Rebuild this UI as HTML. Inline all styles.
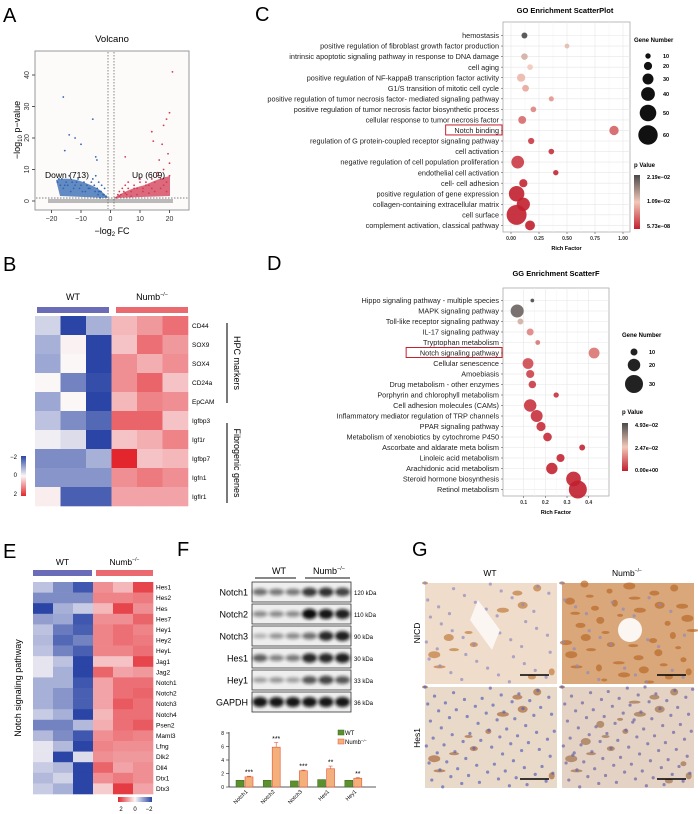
<!DOCTYPE html>
<html><head><meta charset="utf-8">
<style>
html,body{margin:0;padding:0;background:#fff;}
svg{display:block;font-family:"Liberation Sans",Arial,sans-serif;}
</style></head>
<body>
<svg id="fig" width="698" height="814" viewBox="0 0 698 814" xmlns="http://www.w3.org/2000/svg">
<defs>
<filter id="blur1" x="-30%" y="-60%" width="160%" height="220%"><feGaussianBlur stdDeviation="1.6"/></filter>
<linearGradient id="goGrad" x1="0" y1="0" x2="0" y2="1"><stop offset="0" stop-color="#4a4a4a"/><stop offset="0.5" stop-color="#f2c8b8"/><stop offset="1" stop-color="#c21f2e"/></linearGradient>
<linearGradient id="bGrad" x1="0" y1="0" x2="0" y2="1"><stop offset="0" stop-color="#2a45a6"/><stop offset="0.5" stop-color="#fbf7f7"/><stop offset="1" stop-color="#e3262e"/></linearGradient>
<linearGradient id="eGrad" x1="0" y1="0" x2="1" y2="0"><stop offset="0" stop-color="#e3262e"/><stop offset="0.5" stop-color="#fbf7f7"/><stop offset="1" stop-color="#2a45a6"/></linearGradient>
</defs>
<g id="gA"></g>
<g id="gB"></g>
<g id="gC"></g>
<g id="gD"></g>
<g id="gE"></g>
<g id="gF"></g>
<g id="gG"></g>
</svg>
<script>
// ---------- DATA ----------
const volcDownFC=[-18,-17,-16.5,-16,-15,-14.5,-14,-13,-12.5,-12,-11,-10.5,-10,-9,-8.5,-8,-7,-6.5,-6,-5.5,-5,-4.5,-4,-3.5,-3,-2.5,-2,-1.5,-17.5,-15.5,-13.5,-11.5,-9.5,-7.5,-5.2,-4.2,-3.2,-2.2,-16,-14,-12,-6,-5,-4.6,-15.5,-10,-4,-3.5];
const volcDownP=[6,5,7,4,6,5,8,6,4,5,7,4,5,6,3,5,4,6,7,5,8,4,6,3,5,2,4,1.5,7,5,3,6,3,4,3,2,3,2,33,21,20,26,14,13,16,18,3,1];
const volcUpFC=[2,2.5,3,3.5,4,4.5,5,5.5,6,7,8,9,10,11,12,13,14,15,16,17,18,19,20,3,5,7,9,11,13,15,17,19,6,8,10,12,14,16,18,20,21,20,19,18,19.5,14,14.5,17.5,16.5,5];
const volcUpP=[1,2,3,2,4,3,5,2,4,3,5,4,6,4,6,5,7,6,8,7,5,6,8,1.5,2.5,1.5,2,3,2.5,3,4,3,6,4,7,5,4,9,10,12,41,28,26,24,15,22,19,18,13,14];

const bGenes=["CD44","SOX9","SOX4","CD24a","EpCAM","Igfbp3","Igf1r","Igfbp7","Igfn1","Igflr1"];
const bVals=[[-0.4,-2,-0.8,0.6,0.9,1.3],[-0.8,0.05,-2,0.5,1.3,0.9],[-0.9,0,-2,1,0.7,1],[0,-1.3,-1.9,1,1.4,0.5],[-0.9,0,-2,0.6,1.1,1],[-0.6,-1.2,-1.6,1.4,1.4,0.5],[-0.1,-0.3,-2,0.5,0.7,1.1],[-1.2,-1.2,-0.8,2,0.5,0.6],[-1.1,-1.1,-1.1,1,1.2,1],[0.1,-1.7,-1.7,0.8,0.8,0.8]];

const eGenes=["Hes1","Hes2","Hes","Hes7","Hey1","Hey2","HeyL","Jag1","Jag2","Notch1","Notch2","Notch3","Notch4","Psen2","Maml3","Lfng","Dlk2","Dll4","Dtx1","Dtx3"];
const eVals=[[-0.6,-1.2,-1.8,1,0.6,1.7],[-1.2,-1.2,-1.2,1.1,1.1,1.2],[-2,-0.8,-0.5,0.6,1.7,1.0],[-1,-0.9,-1.8,1,1,1.4],[-0.6,-1.4,-1.7,1.1,1.3,1.1],[-0.7,-1.6,-1.3,1.1,1.3,1.2],[-0.6,-1.3,-1.7,1.1,1.1,1.3],[-0.2,-0.6,-2,0.5,0.5,1.7],[-0.2,-0.8,-2,1.4,0.8,0.9],[-0.8,-0.8,-1.8,0.8,1.3,1.3],[-0.8,-1.1,-1.7,0.8,1.3,1.4],[-0.8,-1.1,-1.7,0.8,1.5,1.3],[-0.5,-0.8,-2,0.6,1.3,1.3],[-1.3,-1.3,-0.7,0.7,1.3,1.5],[-0.7,-1.2,-1.8,1,1.2,1.1],[-0.2,-0.7,-2,1.1,1.0,1.0],[-0.2,-2,-0.3,1.0,0.9,0.9],[-0.5,-0.7,-2,1.4,0.8,1.0],[-0.7,-0.4,-2,1,1.2,1],[-0.5,-0.8,-2,0.4,1.8,0.8]];

const goTerms=["hemostasis","positive regulation of fibroblast growth factor production","intrinsic apoptotic signaling pathway in response to DNA damage","cell aging","positive regulation of NF-kappaB transcription factor activity","G1/S transition of mitotic cell cycle","positive regulation of tumor necrosis factor- mediated signaling pathway","positive regulation of tumor necrosis factor biosynthetic process","cellular response to tumor necrosis factor","Notch binding","regulation of G protein-coupled receptor signaling pathway","cell activation","negative regulation of cell population proliferation","endothelial cell activation","cell- cell adhesion","positive regulation of gene expression","collagen-containing extracellular matrix","cell surface","complement activation, classical pathway"];
const goRich=[0.12,0.5,0.12,0.17,0.09,0.13,0.36,0.2,0.1,0.92,0.18,0.36,0.06,0.4,0.11,0.05,0.11,0.05,0.17];
const goCount=[12,8,14,11,20,15,9,11,19,24,13,11,36,10,20,46,38,62,26];
const goP=[1,0.55,0.6,0.5,0.45,0.4,0.35,0.3,0.22,0.2,0.08,0.05,0.08,0.02,0.02,0,0,0,0];
const goTicks=[0,0.25,0.5,0.75,1];
const goTickLabels=["0.00","0.25","0.50","0.75","1.00"];

const kTerms=["Hippo signaling pathway - multiple species","MAPK signaling pathway","Toll-like receptor signaling pathway","IL-17 signaling pathway","Tryptophan metabolism","Notch signaling pathway","Cellular senescence","Amoebiasis","Drug metabolism - other enzymes","Porphyrin and chlorophyll metabolism","Cell adhesion molecules (CAMs)","Inflammatory mediator regulation of TRP channels","PPAR signaling pathway","Metabolism of xenobiotics by cytochrome P450","Ascorbate and aldarate meta bolism","Linoleic acid metabolism","Arachidonic acid metabolism","Steroid hormone biosynthesis","Retinol metabolism"];
const kRich=[0.14,0.07,0.085,0.13,0.165,0.425,0.12,0.13,0.14,0.25,0.13,0.16,0.18,0.21,0.37,0.27,0.23,0.33,0.35];
const kCount=[4,21,8,10,6,17,17,12,11,7,20,19,14,13,8,12,18,24,30];
const kP=[1,0.9,0.6,0.3,0.25,0.25,0.12,0.1,0.08,0.06,0.06,0.05,0.04,0.03,0.02,0.02,0.01,0.01,0];
const kTicks=[0.1,0.2,0.3,0.4];

const fCats=["Notch1","Notch2","Notch3","Hes1","Hey1"];
const fWT=[1.0,1.0,0.9,1.1,1.0];
const fKO=[1.5,5.9,2.4,2.7,1.3];
const fKOerr=[0.1,0.7,0.1,0.4,0.1];
const fSig=["***","***","***","**","**"];
const fYTicks=[0,2,4,6,8];
const blotNames=["Notch1","Notch2","Notch3","Hes1","Hey1","GAPDH"];
const blotKDa=["120 kDa","110 kDa","90 kDa","30 kDa","33 kDa","36 kDa"];
const blotInt=[[0.45,0.4,0.4,0.75,0.8,0.7],[0.3,0.3,0.3,1,0.95,0.9],[0.1,0.25,0.3,0.45,0.85,0.9],[0.55,0.35,0.4,0.85,0.85,0.9],[0.2,0.25,0.2,0.6,0.7,0.6],[0.95,0.95,0.95,0.95,0.95,0.95]];

// ---------- HELPERS ----------
const NS="http://www.w3.org/2000/svg";
function mk(parent,tag,attrs,text){const e=document.createElementNS(NS,tag);for(const k in attrs)e.setAttribute(k,attrs[k]);if(text!==undefined)e.textContent=text;parent.appendChild(e);return e;}
function lerp(a,b,t){return a+(b-a)*t;}
function mixHex(c1,c2,t){const p=h=>[parseInt(h.substr(1,2),16),parseInt(h.substr(3,2),16),parseInt(h.substr(5,2),16)];const a=p(c1),b=p(c2);return "rgb("+a.map((v,i)=>Math.round(lerp(v,b[i],t))).join(",")+")";}
function heatColor(v){const t=Math.min(1,Math.abs(v)/2);return v<0?mixHex("#fbf7f7","#2a45a6",t):mixHex("#fbf7f7","#e3262e",t);}
function pColor(p){return p>0.5?mixHex("#f2c8b8","#4a4a4a",(p-0.5)*2):mixHex("#c21f2e","#f2c8b8",p*2);}
function label(g,x,y,t){const e=mk(g,"text",{x:x,y:y,"font-size":20,fill:"#000"},t);}

// ---------- A: volcano ----------
(function(){
const g=document.getElementById("gA");
label(g,3,22,"A");
const xs=v=>110.5+v*2.95, ys=v=>201-v*3.15;
const t=mk(g,"text",{x:112,y:42,"font-size":9.5,"text-anchor":"middle"},"Volcano");

const bx=mk(g,"rect",{x:35,y:51,width:154,height:159,fill:"#fdfafa",stroke:"#999","stroke-width":1});

// gray non-significant band
const gb=mk(g,"rect",{x:48,y:199,width:125,height:4,fill:"#aaa",opacity:0.8});

mk(g,"line",{x1:36,x2:188,y1:198,y2:198,stroke:"#555","stroke-dasharray":"1.5,1.5","stroke-width":0.7});
mk(g,"line",{x1:108,x2:108,y1:52,y2:209,stroke:"#555","stroke-dasharray":"1.5,1.5","stroke-width":0.7});
mk(g,"line",{x1:114,x2:114,y1:52,y2:209,stroke:"#555","stroke-dasharray":"1.5,1.5","stroke-width":0.7});
// dense clouds
const cd=mk(g,"path",{d:"M56,180 Q70,176 88,184 Q100,188 108,198 L60,196 Z",fill:"#2f66b0",opacity:0.75});

const cu=mk(g,"path",{d:"M114,198 Q125,190 145,185 Q160,178 170,176 L170,196 Z",fill:"#d23a52",opacity:0.75});

volcDownFC.forEach((v,i)=>{const c=mk(g,"circle",{cx:xs(v),cy:ys(volcDownP[i]),r:0.9,fill:"#2f66b0"});});
volcUpFC.forEach((v,i)=>{const c=mk(g,"circle",{cx:xs(v),cy:ys(volcUpP[i]),r:0.9,fill:"#d23a52"});});
const d=mk(g,"text",{x:45,y:178,"font-size":8.5},"Down (713)");
const u=mk(g,"text",{x:132,y:178,"font-size":8.5},"Up (609)");
[-20,-10,0,10,20].forEach(v=>{mk(g,"line",{x1:xs(v),x2:xs(v),y1:210,y2:213,stroke:"#555"});const tt=mk(g,"text",{x:xs(v),y:221,"font-size":7,"text-anchor":"middle",fill:"#333"},v===0?"0":(v<0?"−"+(-v):v));});
[0,10,20,30,40].forEach(v=>{mk(g,"line",{x1:32,x2:35,y1:ys(v),y2:ys(v),stroke:"#555"});const tt=mk(g,"text",{x:0,y:0,"font-size":7,"text-anchor":"middle",fill:"#333",transform:`translate(29,${ys(v)}) rotate(-90)`},v);});
const xt=mk(g,"text",{x:112,y:234,"font-size":9,"text-anchor":"middle"});xt.innerHTML='−log<tspan font-size="6" dy="2">2</tspan><tspan dy="-2"> FC</tspan>';

const yt=mk(g,"text",{"font-size":9,"text-anchor":"middle",transform:"translate(20,130) rotate(-90)"});yt.innerHTML='−log<tspan font-size="6" dy="2">10</tspan><tspan dy="-2"> p−value</tspan>';

})();

// ---------- heatmap helper ----------
function heatmap(g,genes,vals,x0,y0,cw,rh,fs,lx){
 genes.forEach((gn,r)=>{vals[r].forEach((v,c)=>{const e=mk(g,"rect",{x:x0+c*cw,y:y0+r*rh,width:cw+0.3,height:rh+0.3,fill:heatColor(v)});});
 const t=mk(g,"text",{x:lx,y:y0+r*rh+rh/2+fs*0.35,"font-size":fs},gn);});
}
function groupBars(g,x0,x1,x2,x3,yb,yt,fs){
 const a=mk(g,"rect",{x:x0,y:yb,width:x1-x0,height:6,fill:"#6a6cb8"});
 const b=mk(g,"rect",{x:x2,y:yb,width:x3-x2,height:6,fill:"#ea6a70"});
 const t1=mk(g,"text",{x:(x0+x1)/2,y:yt,"font-size":fs,"text-anchor":"middle"},"WT");
 const t2=mk(g,"text",{x:(x2+x3)/2,y:yt,"font-size":fs,"text-anchor":"middle"});t2.innerHTML='Numb<tspan font-size="'+(fs*0.6)+'" dy="-4">−/−</tspan>';
}

// ---------- B ----------
(function(){
const g=document.getElementById("gB");
label(g,3,271,"B");
groupBars(g,37,109,116,188,307,300,9);
heatmap(g,bGenes,bVals,35,316,25.5,19,6.5,192);
mk(g,"line",{x1:227,x2:227,y1:323,y2:403,stroke:"#222","stroke-width":1.2});
mk(g,"line",{x1:227,x2:227,y1:423,y2:503,stroke:"#222","stroke-width":1.2});
const h=mk(g,"text",{"font-size":9,"text-anchor":"middle",transform:"translate(234,363) rotate(90)"},"HPC markers");
const f=mk(g,"text",{"font-size":9,"text-anchor":"middle",transform:"translate(234,463) rotate(90)"},"Fibrogenic genes");
const cb=mk(g,"rect",{x:21,y:456,width:5,height:40,fill:"url(#bGrad)"});
[["−2",459],["0",477],["2",496]].forEach(a=>{const t=mk(g,"text",{x:17,y:a[1],"font-size":6,"text-anchor":"end"},a[0]);});
})();

// ---------- scatter helper ----------
function scatter(g,cfg){
 const {terms,rich,count,p,x0,x1,y0,y1,row0,dy,xs,rf,ticks,tickLabels,boxLabel}=cfg;
 const pa=mk(g,"rect",{x:x0,y:y0,width:x1-x0,height:y1-y0,fill:"#fff",stroke:"#aaa","stroke-width":0.8});
 ticks.forEach(v=>{mk(g,"line",{x1:xs(v),x2:xs(v),y1:y0,y2:y1,stroke:"#e6e6e6","stroke-width":0.6});});
 ticks.forEach((v,i)=>{if(i<ticks.length-1)mk(g,"line",{x1:(xs(v)+xs(ticks[i+1]))/2,x2:(xs(v)+xs(ticks[i+1]))/2,y1:y0,y2:y1,stroke:"#f2f2f2","stroke-width":0.5});});
 terms.forEach((t,i)=>{const y=row0+i*dy;mk(g,"line",{x1:x0,x2:x1,y1:y,y2:y,stroke:"#e6e6e6","stroke-width":0.6});
  const tx=mk(g,"text",{x:x0-4,y:y+2.6,"font-size":7.3,"text-anchor":"end",fill:"#222"},t);
  if(t===boxLabel){const w=t.length*3.95+4;const bb=mk(g,"rect",{x:x0-w-2,y:y-5.5,width:w+1,height:10,fill:"none",stroke:"#c8202a","stroke-width":1});}
  mk(g,"line",{x1:x0-2,x2:x0,y1:y,y2:y,stroke:"#555","stroke-width":0.6});
 });
 terms.forEach((t,i)=>{const c=mk(g,"circle",{cx:xs(rich[i]),cy:row0+i*dy,r:rf(count[i]),fill:pColor(p[i]),opacity:0.9});});
 ticks.forEach((v,i)=>{mk(g,"line",{x1:xs(v),x2:xs(v),y1:y1,y2:y1+2,stroke:"#555","stroke-width":0.6});const tt=mk(g,"text",{x:xs(v),y:y1+8,"font-size":5,"text-anchor":"middle","font-weight":"bold",fill:"#333"},tickLabels[i]);});
 const xt=mk(g,"text",{x:(x0+x1)/2,y:y1+18,"font-size":5.5,"text-anchor":"middle","font-weight":"bold"},"Rich Factor");
}

// ---------- C ----------
(function(){
const g=document.getElementById("gC");
label(g,255,21,"C");
const t=mk(g,"text",{x:565,y:13,"font-size":7.5,"text-anchor":"middle","font-weight":"bold"},"GO Enrichment ScatterPlot");
const xs=v=>511+v*112; const rf=n=>1.3+0.14*n;
scatter(g,{terms:goTerms,rich:goRich,count:goCount,p:goP,x0:503,x1:630,y0:22,y1:232,row0:35.5,dy:10.55,xs:xs,rf:rf,ticks:goTicks,tickLabels:goTickLabels,boxLabel:"Notch binding"});
const gl=mk(g,"text",{x:634,y:42,"font-size":6,"font-weight":"bold"},"Gene Number");
[[10,56],[20,66],[30,79],[40,94],[50,113],[60,135]].forEach(a=>{const c=mk(g,"circle",{cx:648,cy:a[1],r:rf(a[0]),fill:"#111"});const tt=mk(g,"text",{x:663,y:a[1]+2,"font-size":5.5,"font-weight":"bold"},a[0]);});
const pl=mk(g,"text",{x:634,y:167,"font-size":6,"font-weight":"bold"},"p Value");
const cb=mk(g,"rect",{x:634,y:175,width:6,height:54,fill:"url(#goGrad)"});
[["2.19e−02",179],["1.09e−02",203],["5.73e−08",228]].forEach(a=>{const tt=mk(g,"text",{x:647,y:a[1],"font-size":5.5,"font-weight":"bold"},a[0]);});
})();

// ---------- D ----------
(function(){
const g=document.getElementById("gD");
label(g,267,270,"D");
const t=mk(g,"text",{x:556,y:276,"font-size":7.5,"text-anchor":"middle","font-weight":"bold"},"GG Enrichment ScatterF");
const xs=v=>502+v*216.7; const rf=n=>0.75+0.275*n;
scatter(g,{terms:kTerms,rich:kRich,count:kCount,p:kP,x0:503,x1:609,y0:288,y1:496,row0:300.5,dy:10.5,xs:xs,rf:rf,ticks:kTicks,tickLabels:kTicks.map(String),boxLabel:"Notch signaling pathway"});
const gl=mk(g,"text",{x:622,y:337,"font-size":6,"font-weight":"bold"},"Gene Number");
[[10,352],[20,365],[30,384]].forEach(a=>{const c=mk(g,"circle",{cx:634,cy:a[1],r:rf(a[0]),fill:"#222"});const tt=mk(g,"text",{x:649,y:a[1]+2,"font-size":5.5,"font-weight":"bold"},a[0]);});
const pl=mk(g,"text",{x:622,y:414,"font-size":6,"font-weight":"bold"},"p Value");
const cb=mk(g,"rect",{x:622,y:423,width:6,height:48,fill:"url(#goGrad)"});
[["4.93e−02",427],["2.47e−02",450],["0.00e+00",472]].forEach(a=>{const tt=mk(g,"text",{x:635,y:a[1],"font-size":5.5,"font-weight":"bold"},a[0]);});
})();

// ---------- E ----------
(function(){
const g=document.getElementById("gE");
label(g,3,558,"E");
groupBars(g,33,92,96,153,570,565,8.5);
heatmap(g,eGenes,eVals,33,582,20,10.6,6.5,156);
const st=mk(g,"text",{"font-size":9,"text-anchor":"middle",transform:"translate(21,688) rotate(-90)"},"Notch signaling pathway");
const cb=mk(g,"rect",{x:118,y:797,width:34,height:5,fill:"url(#eGrad)"});
[["2",121],["0",135],["−2",149]].forEach(a=>{const t=mk(g,"text",{x:a[1],y:811,"font-size":6,"text-anchor":"middle"},a[0]);});
})();

// ---------- F ----------
(function(){
const g=document.getElementById("gF");
label(g,177,556,"F");
const t1=mk(g,"text",{x:279,y:574,"font-size":9,"text-anchor":"middle"},"WT");
const t2=mk(g,"text",{x:329,y:574,"font-size":9,"text-anchor":"middle"});t2.innerHTML='Numb<tspan font-size="5.5" dy="-4">−/−</tspan>';
mk(g,"line",{x1:255,x2:296,y1:578,y2:578,stroke:"#111","stroke-width":1});
mk(g,"line",{x1:305,x2:350,y1:578,y2:578,stroke:"#111","stroke-width":1});
blotNames.forEach((nm,r)=>{const y=582+r*22;
 const bx=mk(g,"rect",{x:252,y:y,width:99,height:20,fill:"#eeeeee",stroke:"#333","stroke-width":0.8});
 blotInt[r].forEach((v,c)=>{const b=mk(g,"ellipse",{cx:260+c*16.5,cy:y+10,rx:7.5,ry:2+v*3.2,fill:"#111",opacity:0.2+0.8*v,filter:"url(#blur1)"});});
 const l=mk(g,"text",{x:248,y:y+13.5,"font-size":9,"text-anchor":"end"},nm);
 const k=mk(g,"text",{x:354,y:y+13,"font-size":6},blotKDa[r]);
});
// bar chart
const ys=v=>787-v*6.75, cx=i=>244+i*27.2;
mk(g,"line",{x1:229,x2:229,y1:732,y2:787,stroke:"#222","stroke-width":0.8});
mk(g,"line",{x1:229,x2:376,y1:787,y2:787,stroke:"#222","stroke-width":0.8});
fYTicks.forEach(v=>{mk(g,"line",{x1:226,x2:229,y1:ys(v),y2:ys(v),stroke:"#222","stroke-width":0.6});const t=mk(g,"text",{x:224,y:ys(v)+2,"font-size":5,"text-anchor":"end"},v);});
fCats.forEach((c,i)=>{
 const w=mk(g,"rect",{x:cx(i)-8,y:ys(fWT[i]),width:8,height:787-ys(fWT[i]),fill:"#5c8f2e",stroke:"#3d6a1b","stroke-width":0.5});
 const k=mk(g,"rect",{x:cx(i)+1,y:ys(fKO[i]),width:8,height:787-ys(fKO[i]),fill:"#f3b07a",stroke:"#e0563a","stroke-width":0.6});
 mk(g,"line",{x1:cx(i)+5,x2:cx(i)+5,y1:ys(fKO[i]),y2:ys(fKO[i]+fKOerr[i]),stroke:"#e0563a","stroke-width":0.6});
 mk(g,"line",{x1:cx(i)+3,x2:cx(i)+7,y1:ys(fKO[i]+fKOerr[i]),y2:ys(fKO[i]+fKOerr[i]),stroke:"#e0563a","stroke-width":0.6});
 const s=mk(g,"text",{x:cx(i)+5,y:ys(fKO[i]+fKOerr[i])-1.5,"font-size":7,"text-anchor":"middle"},fSig[i]);
 const l=mk(g,"text",{"font-size":5.5,"text-anchor":"end",transform:`translate(${cx(i)+4},792) rotate(-45)`},c);
});
const lw=mk(g,"rect",{x:338,y:730,width:6,height:5,fill:"#5c8f2e",stroke:"#3d6a1b","stroke-width":0.5});
const lwt=mk(g,"text",{x:345,y:735,"font-size":6},"WT");
const lk=mk(g,"rect",{x:338,y:739,width:6,height:5,fill:"#f3b07a",stroke:"#e0563a","stroke-width":0.5});
const lkt=mk(g,"text",{x:345,y:744,"font-size":6});lkt.innerHTML='Numb<tspan font-size="4" dy="-2">−/−</tspan>';
})();

// ---------- G ----------
(function(){
const g=document.getElementById("gG");
label(g,412,556,"G");
const t1=mk(g,"text",{x:490,y:576,"font-size":8.5,"text-anchor":"middle"},"WT");
const t2=mk(g,"text",{x:627,y:576,"font-size":8.5,"text-anchor":"middle"});t2.innerHTML='Numb<tspan font-size="5" dy="-4">−/−</tspan>';
const r1=mk(g,"text",{"font-size":8.5,"text-anchor":"middle",transform:"translate(420,633) rotate(-90)"},"NICD");
const r2=mk(g,"text",{"font-size":8.5,"text-anchor":"middle",transform:"translate(420,738) rotate(-90)"},"Hes1");
const panels=[[425,583,"#efdccb","#c27a3c",0.25,"#8f8ac0",0.5,"ihc-wt-nicd"],[562,583,"#d9a779","#b8692a",0.75,"#8f8ac0",0.3,"ihc-numb-nicd"],[425,687,"#e9d9c8","#a86a3c",0.2,"#5a62b8",0.9,"ihc-wt-hes1"],[562,687,"#e4d3c4","#a0704a",0.3,"#6a62a8",1.0,"ihc-numb-hes1"]];
panels.forEach(p=>{
 const [x,y,bg,br,bd,nu,nd,name]=p; const W=132,H=101;
 const gg=mk(g,"g",{});
 mk(gg,"rect",{x:x,y:y,width:W,height:H,fill:bg});
 const nB=Math.round(60*bd), nN=Math.round(90*nd);
 for(let i=0;i<nB;i++){const u=(i*37%100)/100,v=(i*61%100)/100;mk(gg,"ellipse",{cx:x+u*W,cy:y+v*H,rx:3+(i%4),ry:1.5+(i%3),fill:br,opacity:0.7});}
 for(let i=0;i<nN;i++){const u=(i*53%97)/97,v=(i*29%89)/89;mk(gg,"circle",{cx:x+u*W,cy:y+v*H,r:1.6,fill:nu,opacity:0.7});}
 mk(gg,"line",{x1:x+W-37,x2:x+W-8,y1:y+H-9,y2:y+H-9,stroke:"#000","stroke-width":1.5});
});
// vessel lumens
mk(g,"ellipse",{cx:630,cy:630,rx:12,ry:12,fill:"#fbf6f2"});
mk(g,"path",{d:"M478,600 L500,630 L492,650 L470,620 Z",fill:"#fbf6f2"});
})();
</script>
</body></html>
